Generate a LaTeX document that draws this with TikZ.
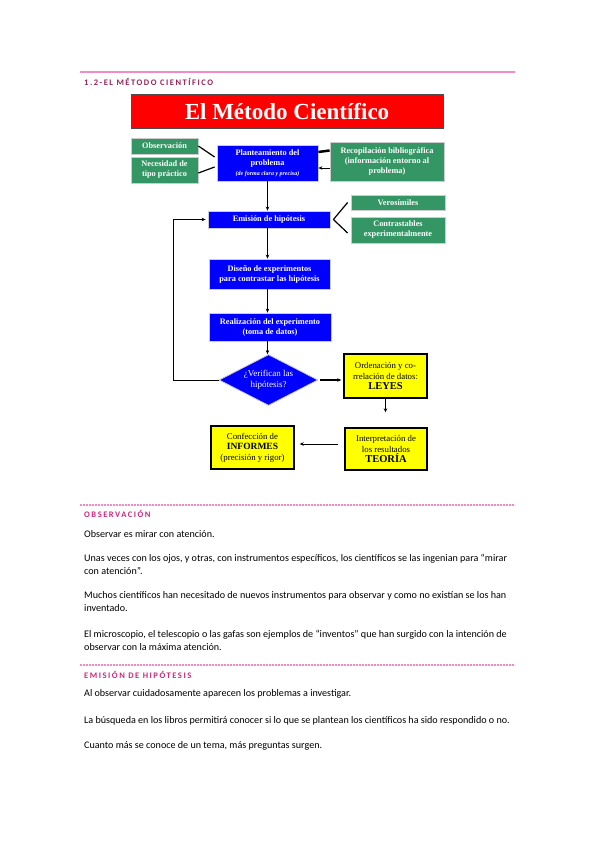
\documentclass[tikz,border=0pt]{standalone}
\usepackage{fontspec}
\setmainfont{Carlito}
\newfontfamily\timesfont{Liberation Serif}
\usetikzlibrary{arrows.meta,shapes.geometric}

\definecolor{boxgreen}{RGB}{51,150,100}
\definecolor{boxblue}{RGB}{0,0,255}
\definecolor{boxred}{RGB}{255,0,0}
\definecolor{boxyellow}{RGB}{255,255,0}
\definecolor{headpink}{RGB}{150,35,85}
\definecolor{secpink}{RGB}{205,40,125}
\definecolor{rulepink}{RGB}{240,140,195}

\tikzset{
  titlebox/.style={draw=black!70, line width=1pt, fill=boxred, text=white, inner sep=0pt,
    font=\timesfont\bfseries\fontsize{23}{26}\selectfont},
  greenbox/.style={draw=black!20, line width=0.8pt, fill=boxgreen, text=white, align=center,
    inner sep=0pt, font=\timesfont\bfseries\fontsize{8.3}{10}\selectfont},
  bluebox/.style={draw=black!20, line width=0.8pt, fill=boxblue, text=white, align=center,
    inner sep=0pt, font=\timesfont\bfseries\fontsize{8.3}{10}\selectfont},
  yellowbox/.style={draw=black, line width=1.4pt, fill=boxyellow, text=black, align=center,
    inner sep=0pt, font=\timesfont\fontsize{8.8}{10.5}\selectfont},
  flow/.style={line width=1.2pt, -{Stealth[length=4pt,width=3.5pt]}},
  plain/.style={line width=1.2pt},
  dashrule/.style={rulepink, line width=1.1pt, dash pattern=on 2pt off 1pt},
  sectitle/.style={anchor=west, inner sep=0pt, text=secpink,
    font=\bfseries\fontsize{8.5}{10}\selectfont\addfontfeatures{LetterSpace=18}},
  bodytext/.style={anchor=north west, inner sep=0pt, align=left,
    font=\fontsize{10.1}{13}\selectfont},
}

\begin{document}
\begin{tikzpicture}[x=1pt,y=-1pt]
  \useasboundingbox[fill=white] (0,0) rectangle (599,848);

  %%%%% heading %%%%%
  \draw[rulepink, line width=1.2pt] (80,72) -- (515,72);
  \node[sectitle, text=headpink] (head) at (84,82) {1.2-EL MÉTODO CIENTÍFICO};

  %%%%% flowchart %%%%%
  \node[titlebox, minimum width=312pt, minimum height=34pt] (title) at (287,112) {El Método Científico};

  \node[greenbox, minimum width=67pt, minimum height=16pt] (obs) at (164.5,146) {Observación};
  \node[greenbox, minimum width=67pt, minimum height=26pt] (nec) at (164.5,170) {Necesidad de\\tipo práctico};
  \node[bluebox, minimum width=101pt, minimum height=36pt] (plan) at (267.5,163)
    {Planteamiento del\\problema\\{\itshape\fontsize{6}{7.5}\selectfont (de forma clara y precisa)}};
  \node[greenbox, minimum width=114pt, minimum height=39pt] (recop) at (387,161.5)
    {Recopilación bibliográfica\\(información entorno al\\problema)};

  \node[bluebox, minimum width=122pt, minimum height=17pt] (emis) at (269,219.5) {Emisión de hipótesis};
  \node[greenbox, minimum width=94pt, minimum height=15pt] (veros) at (398,202.5) {Verosímiles};
  \node[greenbox, minimum width=94pt, minimum height=26pt] (contr) at (398,230) {Contrastables\\experimentalmente};

  \node[bluebox, minimum width=121pt, minimum height=30pt] (dise) at (269.5,274) {Diseño de experimentos\\para contrastar las hipótesis};
  \node[bluebox, minimum width=122pt, minimum height=28pt] (real) at (270,327) {Realización del experimento\\(toma de datos)};

  \node[diamond, aspect=2, draw=black!20, line width=0.8pt, fill=boxblue, text=white, align=center,
    inner sep=0pt, minimum width=99pt, minimum height=51pt,
    font=\timesfont\fontsize{9}{10.5}\selectfont] (diam) at (268.5,380) {¿Verifican las\\hipótesis?};

  \node[yellowbox, minimum width=83pt, minimum height=44pt] (ord) at (385.5,376)
    {Ordenación y co-\\rrelación de datos:\\{\bfseries\fontsize{10.5}{12.5}\selectfont LEYES}};
  \node[yellowbox, minimum width=82pt, minimum height=42pt] (interp) at (386,449)
    {Interpretación de\\los resultados\\{\bfseries\fontsize{10.5}{12.5}\selectfont TEORÍA}};
  \node[yellowbox, minimum width=83pt, minimum height=43pt] (conf) at (252.5,447.5)
    {Confección de\\{\bfseries\fontsize{9.5}{11.5}\selectfont INFORMES}\\(precisión y rigor)};

  % connectors
  \draw[plain] (obs.east) -- ([xshift=-2pt,yshift=6pt]plan.west);
  \draw[plain] ([yshift=-3pt]nec.east) -- ([xshift=-2pt,yshift=-4pt]plan.west);
  \draw[line width=2.5pt] ([yshift=11pt]plan.east) -- ([yshift=11pt]recop.west);
  \draw[flow, line width=0.8pt] ([yshift=-6.5pt]recop.west) -- ([yshift=-5pt]plan.east);
  \draw[flow] (plan.south) -- (plan.south |- emis.north);
  \draw[plain] ([xshift=3pt]emis.east) -- ([xshift=-3pt]veros.west);
  \draw[plain] ([xshift=3pt]emis.east) -- ([xshift=-3pt,yshift=-3pt]contr.west);
  \draw[flow] (plan.south |- emis.south) -- (plan.south |- dise.north);
  \draw[flow] (plan.south |- dise.south) -- (plan.south |- real.north);
  \draw[flow] (plan.south |- real.south) -- (plan.south |- diam.north);
  \draw[flow, shorten <=2pt, shorten >=2pt] (diam.east) -- (diam.east -| ord.west);
  \draw[flow, shorten >=15pt] (ord.south) -- (ord.south |- interp.north);
  \draw[flow, line width=0.9pt, shorten <=6pt, shorten >=5pt] ([yshift=5pt]interp.west) -- ([yshift=5pt]interp.west -| conf.east);
  \draw[flow, line width=1pt, shorten >=2pt] (diam.west) -- ++(-45,0) |- (emis.west);

  %%%%% observacion %%%%%
  \draw[dashrule] (80,505) -- (515,505);
  \node[sectitle] (obstitle) at (84,514) {OBSERVACIÓN};
  \node[bodytext] (p1) at (84,530) {Observar es mirar con atención.};
  \node[bodytext] (p2) at (84,554) {Unas veces con los ojos, y otras, con instrumentos específicos, los científicos se las ingenian para “mirar\\con atención”.};
  \node[bodytext] (p3) at (84,591) {Muchos científicos han necesitado de nuevos instrumentos para observar y como no existían se los han\\inventado.};
  \node[bodytext] (p4) at (84,630) {El microscopio, el telescopio o las gafas son ejemplos de “inventos” que han surgido con la intención de\\observar con la máxima atención.};

  %%%%% emision de hipotesis %%%%%
  \draw[dashrule] (80,665) -- (515,665);
  \node[sectitle] (emistitle) at (84,675) {EMISIÓN DE HIPÓTESIS};
  \node[bodytext] (p5) at (84,689) {Al observar cuidadosamente aparecen los problemas a investigar.};
  \node[bodytext] (p6) at (84,716) {La búsqueda en los libros permitirá conocer si lo que se plantean los científicos ha sido respondido o no.};
  \node[bodytext] (p7) at (84,741) {Cuanto más se conoce de un tema, más preguntas surgen.};
\end{tikzpicture}
\end{document}
